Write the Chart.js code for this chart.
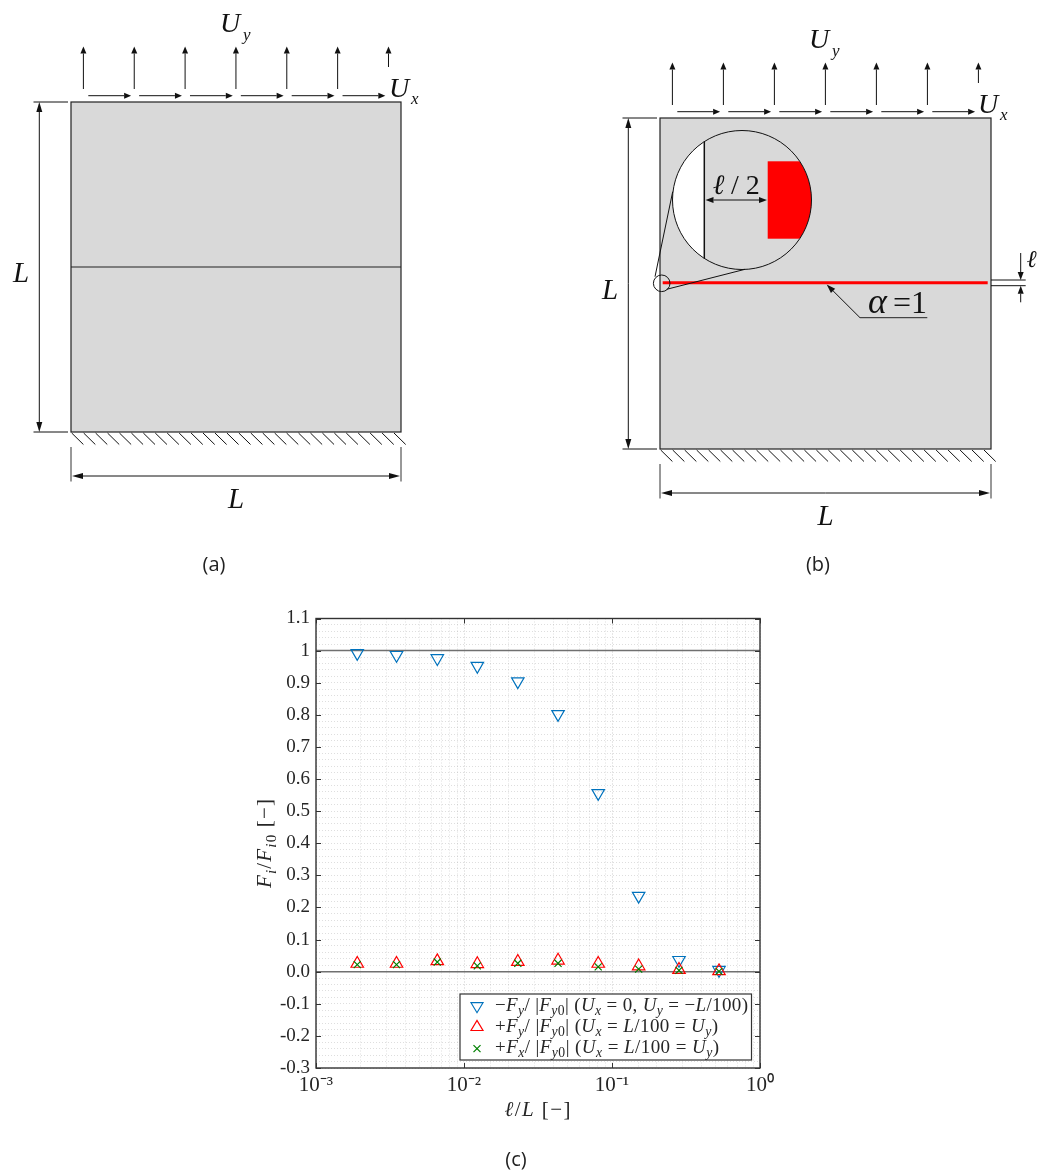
<!DOCTYPE html>
<html>
<head>
<meta charset="utf-8">
<style>
    html, body { margin: 0; padding: 0; background: #fff; }
    #page { position: relative; width: 1037px; height: 1172px; overflow: hidden; }
    #chart { position: absolute; left: 250px; top: 600px; }
    #sketch { position: absolute; left: 0; top: 0; }
</style>
<script src="https://cdn.jsdelivr.net/npm/chart.js@4"></script>
</head>
<body>
<div id="page">
    <canvas id="chart" width="530" height="508"></canvas>
    <svg id="sketch" width="1037" height="1172" xmlns="http://www.w3.org/2000/svg"></svg>
</div>
<script>
// data
const lengthRatio = [0.0019, 0.0035, 0.0066, 0.0123, 0.0231, 0.0432, 0.0807, 0.1514, 0.2836, 0.5284];
const shearOnlyFy = [0.992, 0.986, 0.976, 0.952, 0.904, 0.802, 0.556, 0.236, 0.036, 0.005];
const mixedFy = [0.025, 0.025, 0.033, 0.024, 0.031, 0.035, 0.025, 0.017, 0.006, 0.002];
const mixedFx = [0.022, 0.022, 0.030, 0.018, 0.026, 0.026, 0.015, 0.008, 0.004, 0.001];
const referenceLevels = [1, 0];
const xRange = [0.001, 1];
const yRange = [-0.3, 1.1];
const xTickLabels = ['10⁻³', '10⁻²', '10⁻¹', '10⁰'];
const yTickLabels = ['-0.3', '-0.2', '-0.1', '0.0', '0.1', '0.2', '0.3', '0.4', '0.5', '0.6', '0.7', '0.8', '0.9', '1', '1.1'];
const legendLabels = [
    '−*F*_{y}/ |*F*_{y}~{0}| (*U*_{x} = 0, *U*_{y} = −*L*/100)',
    '+*F*_{y}/ |*F*_{y}~{0}| (*U*_{x} = *L*/100 = *U*_{y})',
    '+*F*_{x}/ |*F*_{y}~{0}| (*U*_{x} = *L*/100 = *U*_{y})',
];

const INK = '#262626';
const SERIF = '"Liberation Serif", serif';
const BLUE = '#0072BD';
const RED = '#FF0000';
const GREEN = '#008000';

const svg = document.getElementById('sketch');

const add = (name, attrs, parent = svg) => {
    const el = document.createElementNS('http://www.w3.org/2000/svg', name);
    Object.keys(attrs).forEach((key) => el.setAttribute(key, attrs[key]));
    parent.appendChild(el);
    return el;
};

const line = (x1, y1, x2, y2, color = '#111', width = 1) => {
    add('line', { x1, y1, x2, y2, stroke: color, 'stroke-width': width });
};

// line with a solid head at the (x2, y2) end
const arrow = (x1, y1, x2, y2, head = 8) => {
    const angle = Math.atan2(y2 - y1, x2 - x1);
    const bx = x2 - Math.cos(angle) * head;
    const by = y2 - Math.sin(angle) * head;
    const nx = -Math.sin(angle) * 3;
    const ny = Math.cos(angle) * 3;
    line(x1, y1, bx, by);
    add('polygon', { points: `${x2},${y2} ${bx + nx},${by + ny} ${bx - nx},${by - ny}`, fill: '#111' });
};

const label = (x, y, str, size, italic = true, anchor = 'start') => {
    const el = add('text', {
        x, y, fill: '#111', 'font-family': SERIF, 'font-size': size, 'text-anchor': anchor,
    });
    if (italic) el.setAttribute('font-style', 'italic');
    el.textContent = str;
    return el;
};

const caption = (x, y, str) => {
    const el = add('text', {
        x, y, fill: '#222', 'font-family': '"Open Sans", sans-serif', 'font-size': 20, 'text-anchor': 'middle',
    });
    el.textContent = str;
};

/**
 * Writes a formula: *x* is italic, _{x} an italic subscript, ~{x} an upright subscript.
 */
const formula = (attrs, markup, size) => {
    const el = add('text', Object.assign({ fill: INK, 'font-family': SERIF, 'font-size': size }, attrs));
    let offset = 0;
    markup.match(/\*[^*]+\*|_\{[^}]+\}|~\{[^}]+\}|[^*_~]+/g).forEach((part) => {
        const head = part[0];
        const isSub = head === '_' || head === '~';
        const str = head === '*' ? part.slice(1, -1) : isSub ? part.slice(2, -1) : part;
        const target = isSub ? size * 0.22 : 0;
        const span = add('tspan', { dy: target - offset }, el);
        offset = target;
        if (head === '*' || head === '_') span.setAttribute('font-style', 'italic');
        if (isSub) span.setAttribute('font-size', size * 0.72);
        span.textContent = str;
    });
    return el;
};

/**
 * Square with its load arrows, clamped edge and dimension lines.
 */
const drawSpecimen = (left, top, size) => {
    const right = left + size;
    const bottom = top + size;
    const step = size / 6.49;

    add('rect', { x: left, y: top, width: size, height: size, fill: '#D9D9D9', stroke: '#222', 'stroke-width': 1.2 });

    // vertical load
    for (let i = 0; i < 7; i++) {
        const x = left + 12.4 + i * step;
        arrow(x, i === 6 ? top - 35 : top - 13, x, top - 55.5, 7);
    }
    // horizontal load
    for (let i = 0; i < 6; i++) {
        const x = left + 17.3 + i * step;
        arrow(x, top - 6.3, x + 42.8, top - 6.3, 7);
    }

    // clamped edge
    const hatches = 27;
    for (let i = 0; i <= hatches; i++) {
        const x = left + 0.7 + i * (size - 7.7) / hatches;
        line(x, bottom + 1, x + 11.7, bottom + 12.5, '#111', 1);
    }

    // height
    const dimX = left - 31.7;
    line(left - 37.5, top, left - 3, top);
    line(left - 37.5, bottom, left - 3, bottom);
    arrow(dimX, (top + bottom) / 2, dimX, top, 10);
    arrow(dimX, (top + bottom) / 2, dimX, bottom, 10);

    // width
    line(left, bottom + 15, left, bottom + 49.5, '#333');
    line(right, bottom + 15, right, bottom + 49.5, '#333');
    arrow((left + right) / 2, bottom + 44, left + 1, bottom + 44, 11);
    arrow((left + right) / 2, bottom + 44, right - 1, bottom + 44, 11);

    label((left + right) / 2, bottom + 75.5, 'L', 29, true, 'middle');
    label(left - 58, (top + bottom) / 2 + 15, 'L', 29);
    label(left + 149, top - 70, 'U', 28);
    label(left + 172, top - 62, 'y', 17);
    label(left + 318, top - 5, 'U', 28);
    label(left + 340, top + 2, 'x', 17);
};

const drawPanelA = () => {
    drawSpecimen(71, 102, 330);
    line(71, 267, 401, 267, '#222', 1.2);
    caption(214, 571, '(a)');
};

const drawPanelB = () => {
    drawSpecimen(660, 118, 331);

    // crack and its label
    line(662.7, 282.7, 987.7, 282.7, '#FF0000', 3);
    line(860, 317.7, 927.3, 317.7, '#222');
    arrow(860, 317.7, 826.7, 284.5, 9);
    label(868, 313.3, 'α', 36);
    label(893, 313.3, '=1', 32, false);

    // magnifier
    const cx = 742;
    const cy = 200;
    const r = 69.5;
    const clip = add('clipPath', { id: 'lens' });
    add('circle', { cx, cy, r }, clip);
    add('rect', { x: cx - r, y: cy - r, width: 704.3 - cx + r, height: 2 * r, fill: '#fff', 'clip-path': 'url(#lens)' });
    add('rect', { x: 767.7, y: 161.3, width: 60, height: 77.4, fill: '#FF0000', 'clip-path': 'url(#lens)' });
    add('circle', { cx, cy, r, fill: 'none', stroke: '#111', 'stroke-width': 1 });
    const half = Math.sqrt(r * r - (704.3 - cx) * (704.3 - cx));
    line(704.3, cy - half, 704.3, cy + half, '#111', 1.5);
    arrow(736, 200, 705.5, 200, 8);
    arrow(736, 200, 767, 200, 8);
    label(712.7, 194, 'ℓ', 28);
    label(731, 194, '/ 2', 28, false);

    add('circle', { cx: 661.7, cy: 283.3, r: 8.3, fill: 'none', stroke: '#111' });
    line(655, 276.7, 672.7, 191.7);
    line(666.7, 289.3, 745, 269.3);

    // process zone width
    line(991, 280, 1025.7, 280);
    line(991, 285.7, 1025.7, 285.7);
    arrow(1020.7, 253, 1020.7, 280, 8);
    arrow(1020.7, 302.3, 1020.7, 285.7, 8);
    label(1026.7, 267, 'ℓ', 24);

    caption(818, 571, '(b)');
};

const legendBox = { x: 460, y: 994, width: 291.5, height: 66 };

const drawLegend = () => {
    add('rect', Object.assign({ fill: '#fff', stroke: '#333', 'stroke-width': 1.2 }, legendBox));
    const textWidths = [253, 223, 224];
    const baselines = [1011, 1032, 1053];
    const markerY = [1006.7, 1026.5, 1048.7];
    add('polygon', { points: `471,${markerY[0] - 4} 483,${markerY[0] - 4} 477,${markerY[0] + 6}`, fill: 'none', stroke: BLUE, 'stroke-width': 1.2 });
    add('polygon', { points: `471,${markerY[1] + 4} 483,${markerY[1] + 4} 477,${markerY[1] - 6}`, fill: 'none', stroke: RED, 'stroke-width': 1.2 });
    line(473.5, markerY[2] - 3.5, 480.5, markerY[2] + 3.5, GREEN, 1.2);
    line(473.5, markerY[2] + 3.5, 480.5, markerY[2] - 3.5, GREEN, 1.2);
    legendLabels.forEach((markup, i) => {
        formula({ x: 495, y: baselines[i], textLength: textWidths[i], lengthAdjust: 'spacing' }, markup, 19);
    });
};

const drawAxisTitles = () => {
    formula({ x: 537.5, y: 1116, 'text-anchor': 'middle', textLength: 66, lengthAdjust: 'spacing' }, '*ℓ*/*L* [−]', 21);
    formula({ x: 271, y: 843.5, 'text-anchor': 'middle', textLength: 89, lengthAdjust: 'spacing', transform: 'rotate(-90 271 843.5)' }, '*F*_{i}/*F*_{i}~{0} [−]', 21);
};

// ticks pointing into the plot, and the frame
const framePlugin = {
    id: 'frame',
    afterDraw: (chart) => {
        const { ctx, chartArea: area, scales } = chart;
        ctx.save();
        ctx.strokeStyle = '#333';
        ctx.lineWidth = 1;
        ctx.beginPath();
        scales.y.ticks.filter((t) => t.label !== '').forEach((t) => {
            const y = Math.round(scales.y.getPixelForValue(t.value)) + 0.5;
            ctx.moveTo(area.left, y);
            ctx.lineTo(area.left + 5, y);
            ctx.moveTo(area.right, y);
            ctx.lineTo(area.right - 5, y);
        });
        scales.x.ticks.filter((t) => t.label !== '').forEach((t) => {
            const x = Math.round(scales.x.getPixelForValue(t.value)) + 0.5;
            ctx.moveTo(x, area.top);
            ctx.lineTo(x, area.top + 5);
            ctx.moveTo(x, area.bottom);
            ctx.lineTo(x, area.bottom - 5);
        });
        ctx.stroke();
        ctx.lineWidth = 1.4;
        ctx.strokeRect(area.left, area.top, area.right - area.left, area.bottom - area.top);
        ctx.restore();
    },
};

const toPoints = (values) => values.map((y, i) => ({ x: lengthRatio[i], y }));

const createChart = () => {
    const referenceSets = referenceLevels.map((level) => ({
        type: 'line',
        data: xRange.map((x) => ({ x, y: level })),
        borderColor: '#707070',
        borderWidth: 1.5,
        pointRadius: 0,
        order: 5,
    }));

    const config = {
        type: 'scatter',
        data: {
            datasets: [
                ...referenceSets,
                {
                    data: toPoints(shearOnlyFy),
                    pointStyle: 'triangle',
                    rotation: 180,
                    radius: 7.2,
                    borderColor: BLUE,
                    backgroundColor: 'transparent',
                    borderWidth: 1.2,
                    order: 3,
                },
                {
                    data: toPoints(mixedFy),
                    pointStyle: 'triangle',
                    radius: 7.2,
                    borderColor: RED,
                    backgroundColor: 'transparent',
                    borderWidth: 1.2,
                    order: 2,
                },
                {
                    data: toPoints(mixedFx),
                    pointStyle: 'crossRot',
                    radius: 5,
                    borderColor: GREEN,
                    backgroundColor: 'transparent',
                    borderWidth: 1.2,
                    order: 1,
                },
            ],
        },
        options: {
            responsive: false,
            animation: false,
            events: [],
            devicePixelRatio: 1,
            layout: { padding: { left: 0, top: 18.5, right: 20, bottom: 0 } },
            plugins: { legend: { display: false }, tooltip: { enabled: false } },
            scales: {
                x: {
                    type: 'logarithmic',
                    min: xRange[0],
                    max: xRange[1],
                    afterFit: (scale) => { scale.height = 40; },
                    border: { display: false, dash: [1, 2] },
                    grid: {
                        drawTicks: false,
                        color: (ctx) => (ctx.tick && ctx.tick.major ? 'rgba(0,0,0,0.2)' : 'rgba(0,0,0,0.13)'),
                    },
                    ticks: {
                        autoSkip: false,
                        maxRotation: 0,
                        padding: 5,
                        color: INK,
                        font: { family: SERIF, size: 21 },
                        callback: (value) => {
                            const exponent = Math.log10(value);
                            if (Math.abs(exponent - Math.round(exponent)) > 1e-6) return '';
                            return xTickLabels[Math.round(exponent) + 3];
                        },
                    },
                },
                y: {
                    min: yRange[0],
                    max: yRange[1],
                    afterFit: (scale) => { scale.width = 66; },
                    border: { display: false, dash: [1, 2] },
                    grid: {
                        drawTicks: false,
                        color: 'rgba(0,0,0,0.13)',
                    },
                    ticks: {
                        stepSize: 0.02,
                        autoSkip: false,
                        padding: 6,
                        color: INK,
                        font: { family: SERIF, size: 19 },
                        callback: (value) => {
                            const hundredths = Math.round(value * 100);
                            if (hundredths % 10 !== 0) return '';
                            return yTickLabels[hundredths / 10 + 3];
                        },
                    },
                },
            },
        },
        plugins: [framePlugin],
    };

    return new Chart(document.getElementById('chart'), config);
};

drawPanelA();
drawPanelB();
createChart();
drawLegend();
drawAxisTitles();
caption(516, 1166, '(c)');
</script>
</body>
</html>
